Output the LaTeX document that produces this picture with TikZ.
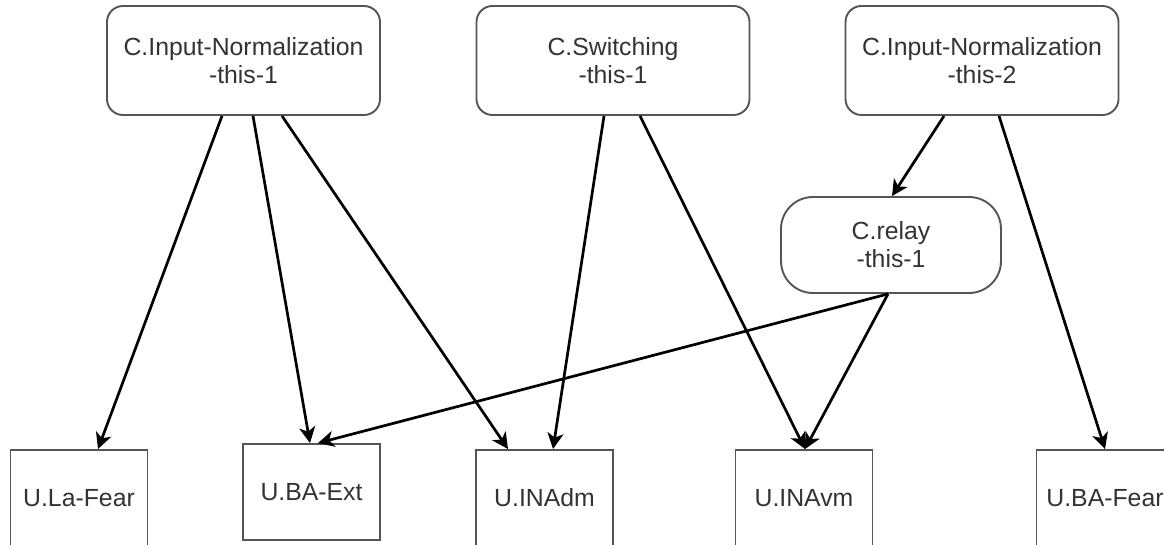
\documentclass[tikz,border=0pt]{standalone}
\usepackage{fontspec}
\setmainfont{Liberation Sans}
\usetikzlibrary{arrows.meta}
\definecolor{txt}{HTML}{333333}
\definecolor{edge}{HTML}{555555}
\tikzset{
  ctrl/.style={draw=edge, line width=1.9pt, rounded corners=16pt, fill=white,
    minimum width=273pt, minimum height=109pt, align=center, text=txt,
    font=\fontsize{24.8}{28}\selectfont, inner sep=0pt},
  relaybox/.style={ctrl, rounded corners=32pt, minimum width=220pt, minimum height=96pt},
  unit/.style={draw=edge, line width=1.9pt, fill=white, minimum width=137pt,
    minimum height=96pt, text=txt, font=\fontsize{24.8}{28}\selectfont, inner sep=0pt},
  link/.style={draw=black, line width=2.7pt, -{Stealth[length=16pt,width=16pt,inset=4.5pt]}}
}
\begin{document}
\begin{tikzpicture}[x=1pt,y=-1pt]
\useasboundingbox (0,0) rectangle (1164,545);
% control components
\node[ctrl] (inorm1) at (243.5,60.5) {C.Input-Normalization\\-this-1};
\node[ctrl] (switch) at (613,60.5) {C.Switching\\-this-1};
\node[ctrl] (inorm2) at (982,60.5) {C.Input-Normalization\\-this-2};
\node[relaybox] (relay) at (891,245) {C.relay\\-this-1};
% units
\node[unit] (lafear) at (79,498) {U.La-Fear};
\node[unit] (baext) at (311.5,492) {U.BA-Ext};
\node[unit] (inadm) at (544.5,498) {U.INAdm};
\node[unit] (inavm) at (804,498) {U.INAvm};
\node[unit] (bafear) at (1105,498) {U.BA-Fear};
% connections
\draw[link] ([xshift=-21.5pt]inorm1.south) -- ([xshift=19pt]lafear.north);
\draw[link] ([xshift=9.5pt]inorm1.south) -- ([xshift=-1.5pt]baext.north);
\draw[link] ([xshift=38.5pt]inorm1.south) -- ([xshift=-36.5pt]inadm.north);
\draw[link] ([xshift=-9pt]switch.south) -- ([xshift=8.5pt]inadm.north);
\draw[link] ([xshift=27pt]switch.south) -- ([xshift=1pt]inavm.north);
\draw[link] ([xshift=-38pt]inorm2.south) -- ([xshift=1pt]relay.north);
\draw[link] ([xshift=17pt]inorm2.south) -- (bafear.north);
\draw[link] ([xshift=-3pt]relay.south) -- ([xshift=1pt]inavm.north);
\draw[link] ([xshift=-3pt]relay.south) -- ([xshift=6.5pt]baext.north);
\end{tikzpicture}
\end{document}
